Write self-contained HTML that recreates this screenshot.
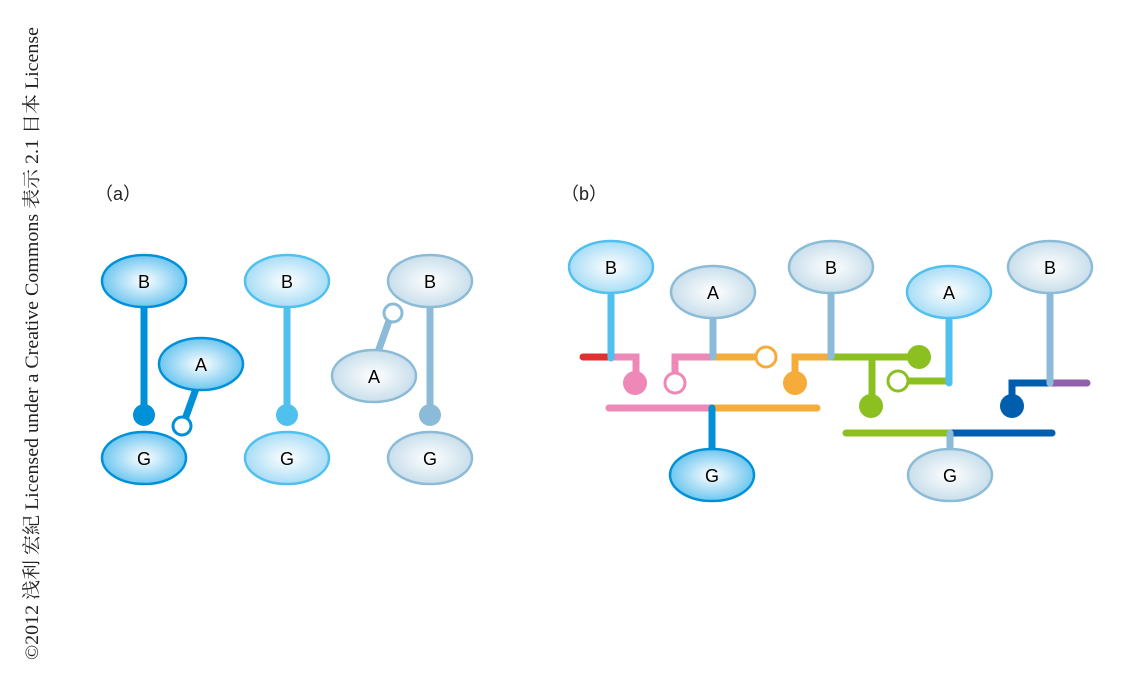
<!DOCTYPE html>
<html><head><meta charset="utf-8"><style>
html,body{margin:0;padding:0;background:#fff;width:1125px;height:684px;overflow:hidden}
</style></head><body>
<svg width="1125" height="684" xmlns="http://www.w3.org/2000/svg" font-family="Liberation Sans, sans-serif">
<defs>
<radialGradient id="gd" cx="50%" cy="50%" r="55%"><stop offset="0" stop-color="#fff"/><stop offset="1" stop-color="#5fc0ee"/></radialGradient>
<radialGradient id="gl" cx="50%" cy="50%" r="55%"><stop offset="0" stop-color="#fff"/><stop offset="1" stop-color="#9fd9f5"/></radialGradient>
<radialGradient id="gg" cx="50%" cy="50%" r="55%"><stop offset="0" stop-color="#fff"/><stop offset="1" stop-color="#c3dbe9"/></radialGradient>
</defs>
<text transform="translate(38,660) rotate(-90)" font-family="Liberation Serif, Noto Serif CJK SC, serif" font-size="18.5" fill="#222" textLength="633" lengthAdjust="spacingAndGlyphs">©2012 浅利 宏紀 Licensed under a Creative Commons 表示 2.1 日本 License</text>
<text x="95" y="200" font-size="18" fill="#222" font-family="Liberation Sans, Noto Sans CJK JP, sans-serif">（a）</text>
<text x="561" y="200" font-size="18" fill="#222" font-family="Liberation Sans, Noto Sans CJK JP, sans-serif">（b）</text>
<g stroke-linecap="round" fill="none" stroke-width="7">
<line x1="144" y1="300" x2="144" y2="415" stroke="#0090d8"/>
<line x1="197" y1="386" x2="184" y2="422" stroke="#0090d8"/>
<line x1="287" y1="300" x2="287" y2="415" stroke="#50c0ee"/>
<line x1="430" y1="300" x2="430" y2="415" stroke="#8bbbd6"/>
<line x1="378" y1="352" x2="390" y2="318" stroke="#8bbbd6"/>
<polyline points="583,357 611,357" stroke="#e03030"/>
<polyline points="611,357 636,357 636,383" stroke="#ee88b6"/>
<polyline points="675,383 675,357 713,357" stroke="#ee88b6"/>
<polyline points="713,357 763,357" stroke="#f6ac3a"/>
<polyline points="795,383 795,357 831,357" stroke="#f6ac3a"/>
<polyline points="831,357 918,357" stroke="#8cc021"/>
<polyline points="872,357 872,406" stroke="#8cc021"/>
<polyline points="898,381 948,381" stroke="#8cc021"/>
<polyline points="1012,406 1012,383 1050,383" stroke="#005eae"/>
<polyline points="1050,383 1087,383" stroke="#9060a8"/>
<polyline points="609,408 713,408" stroke="#ee88b6"/>
<polyline points="713,408 817,408" stroke="#f6ac3a"/>
<polyline points="846,433 950,433" stroke="#8cc021"/>
<polyline points="950,433 1052,433" stroke="#005eae"/>
<line x1="611" y1="290" x2="611" y2="358" stroke="#50c0ee"/>
<line x1="713" y1="315" x2="713" y2="357" stroke="#8bbbd6"/>
<line x1="831" y1="290" x2="831" y2="357" stroke="#8bbbd6"/>
<line x1="949" y1="315" x2="949" y2="383" stroke="#50c0ee"/>
<line x1="1050" y1="290" x2="1050" y2="383" stroke="#8bbbd6"/>
<line x1="712" y1="408" x2="712" y2="455" stroke="#0090d8"/>
<line x1="950" y1="433" x2="950" y2="455" stroke="#8bbbd6"/>
</g>
<circle cx="144" cy="415" r="11" fill="#0090d8"/>
<circle cx="182" cy="426" r="9" fill="#fff" stroke="#0090d8" stroke-width="3"/>
<circle cx="287" cy="415" r="11" fill="#50c0ee"/>
<circle cx="430" cy="415" r="11" fill="#8bbbd6"/>
<circle cx="393" cy="313" r="9" fill="#fff" stroke="#8bbbd6" stroke-width="3"/>
<circle cx="635" cy="383" r="12" fill="#ee88b6"/>
<circle cx="675" cy="383" r="10" fill="#fff" stroke="#ee88b6" stroke-width="3"/>
<circle cx="766" cy="357" r="10" fill="#fff" stroke="#f6ac3a" stroke-width="3"/>
<circle cx="795" cy="383" r="12" fill="#f6ac3a"/>
<circle cx="919" cy="357" r="12" fill="#8cc021"/>
<circle cx="871" cy="406" r="12" fill="#8cc021"/>
<circle cx="898" cy="381" r="10" fill="#fff" stroke="#8cc021" stroke-width="3"/>
<circle cx="1012" cy="406" r="12" fill="#005eae"/>
<g stroke-width="2.5" font-size="18" text-anchor="middle">
<ellipse cx="144" cy="281" rx="42" ry="26" fill="url(#gd)" stroke="#0090d8"/><text x="144" y="288">B</text>
<ellipse cx="201" cy="364" rx="42" ry="26" fill="url(#gd)" stroke="#0090d8"/><text x="201" y="371">A</text>
<ellipse cx="144" cy="458" rx="42" ry="26" fill="url(#gd)" stroke="#0090d8"/><text x="144" y="465">G</text>
<ellipse cx="287" cy="281" rx="42" ry="26" fill="url(#gl)" stroke="#50c0ee"/><text x="287" y="288">B</text>
<ellipse cx="287" cy="458" rx="42" ry="26" fill="url(#gl)" stroke="#50c0ee"/><text x="287" y="465">G</text>
<ellipse cx="430" cy="281" rx="42" ry="26" fill="url(#gg)" stroke="#8bbbd6"/><text x="430" y="288">B</text>
<ellipse cx="374" cy="376" rx="42" ry="26" fill="url(#gg)" stroke="#8bbbd6"/><text x="374" y="383">A</text>
<ellipse cx="430" cy="458" rx="42" ry="26" fill="url(#gg)" stroke="#8bbbd6"/><text x="430" y="465">G</text>
<ellipse cx="611" cy="267" rx="42" ry="26" fill="url(#gl)" stroke="#50c0ee"/><text x="611" y="274">B</text>
<ellipse cx="713" cy="292" rx="42" ry="26" fill="url(#gg)" stroke="#8bbbd6"/><text x="713" y="299">A</text>
<ellipse cx="831" cy="267" rx="42" ry="26" fill="url(#gg)" stroke="#8bbbd6"/><text x="831" y="274">B</text>
<ellipse cx="949" cy="292" rx="42" ry="26" fill="url(#gl)" stroke="#50c0ee"/><text x="949" y="299">A</text>
<ellipse cx="1050" cy="267" rx="42" ry="26" fill="url(#gg)" stroke="#8bbbd6"/><text x="1050" y="274">B</text>
<ellipse cx="712" cy="475" rx="42" ry="26" fill="url(#gd)" stroke="#0090d8"/><text x="712" y="482">G</text>
<ellipse cx="950" cy="475" rx="42" ry="26" fill="url(#gg)" stroke="#8bbbd6"/><text x="950" y="482">G</text>
</g>
</svg>
</body></html>
